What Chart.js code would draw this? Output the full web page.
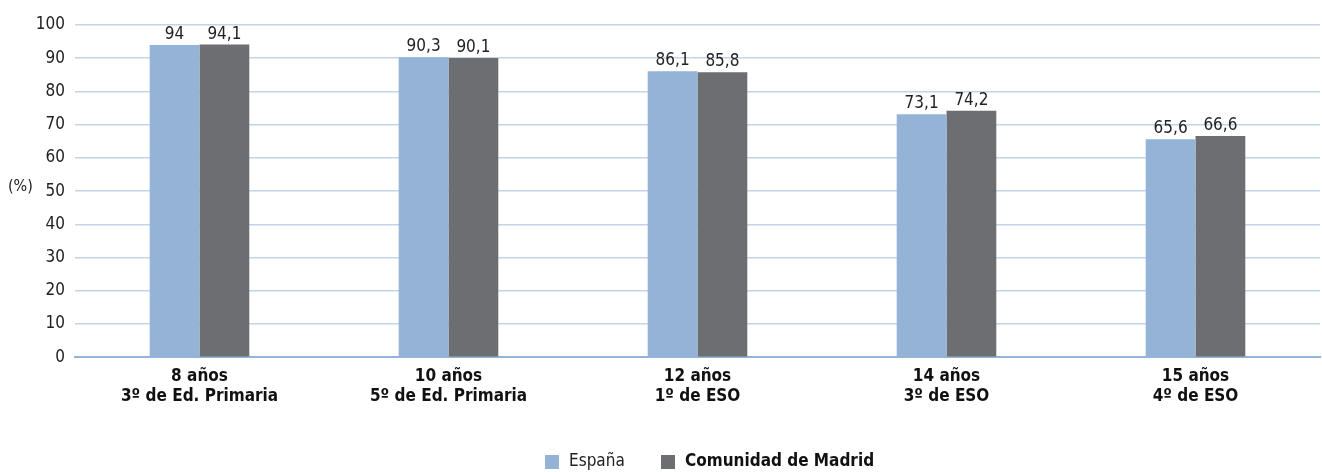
<!DOCTYPE html>
<html><head><meta charset="utf-8">
<script src="https://cdn.jsdelivr.net/npm/chart.js@4"></script>
<style>html,body{margin:0;padding:0;background:#fff;}#wrap{width:1322px;height:472px;}</style>
</head><body><div id="wrap"><canvas id="c" width="1322" height="472"></canvas></div>
<script>
const categories = [["8 años","3º de Ed. Primaria"],["10 años","5º de Ed. Primaria"],["12 años","1º de ESO"],["14 años","3º de ESO"],["15 años","4º de ESO"]];
const espana = [94, 90.3, 86.1, 73.1, 65.6];
const madrid = [94.1, 90.1, 85.8, 74.2, 66.6];
const seriesNames = ["España", "Comunidad de Madrid"];
const yTicks = [0,10,20,30,40,50,60,70,80,90,100];
const yTitle = "(%)";

const FONT = "'Liberation Sans Narrow','DejaVu Sans Condensed','Liberation Sans',sans-serif";
const colors = ["#95b3d7", "#6d6e71"];

const labelPlugin = {
  id: 'extras',
  afterDatasetsDraw(chart) {
    const ctx = chart.ctx;
    ctx.save();
    ctx.font = "17px " + FONT;
    ctx.fillStyle = "#222";
    ctx.textAlign = "center";
    ctx.textBaseline = "bottom";
    chart.data.datasets.forEach((ds, i) => {
      const meta = chart.getDatasetMeta(i);
      meta.data.forEach((bar, j) => {
        const v = ds.data[j];
        const s = String(v).replace('.', ',');
        ctx.fillText(s, bar.x, bar.y - 2);
      });
    });
    // y title
    const ys = chart.scales.y;
    ctx.font = "16px " + FONT;
    ctx.textAlign = "left";
    ctx.textBaseline = "middle";
    ctx.fillText(yTitle, 8, ys.getPixelForValue(50) - 4);
    // legend
    const ly = 462;
    let x = 545;
    ctx.fillStyle = colors[0];
    ctx.fillRect(x, ly - 7, 14, 14);
    ctx.fillStyle = "#222";
    ctx.font = "17px " + FONT;
    ctx.fillText(seriesNames[0], x + 24, ly);
    x = 661;
    ctx.fillStyle = colors[1];
    ctx.fillRect(x, ly - 7, 14, 14);
    ctx.fillStyle = "#111";
    ctx.font = "bold 17px " + FONT;
    ctx.fillText(seriesNames[1], x + 24, ly);
    ctx.restore();
  }
};

new Chart(document.getElementById('c'), {
  type: 'bar',
  data: {
    labels: categories,
    datasets: [
      { label: seriesNames[0], data: espana, backgroundColor: colors[0], categoryPercentage: 0.4, barPercentage: 1.0 },
      { label: seriesNames[1], data: madrid, backgroundColor: colors[1], categoryPercentage: 0.4, barPercentage: 1.0 }
    ]
  },
  options: {
    responsive: false,
    animation: false,
    layout: { padding: { top: 25, right: 2, bottom: 56, left: 0 } },
    plugins: { legend: { display: false }, tooltip: { enabled: false } },
    scales: {
      x: {
        grid: { display: false, drawTicks: false },
        border: { display: true, color: "#95b3d7", width: 2 },
        ticks: { color: "#111", font: { family: FONT, size: 17, weight: 'bold' }, padding: 9, maxRotation: 0 }
      },
      y: {
        min: 0, max: 100,
        afterBuildTicks(scale) { scale.ticks = yTicks.map(v => ({ value: v })); },
        grid: { color: "#c3d4ea", lineWidth: 1.5, drawTicks: false },
        border: { display: false },
        ticks: { color: "#222", font: { family: FONT, size: 17 }, padding: 10 },
        afterFit(scale) { scale.width = 75; }
      }
    }
  },
  plugins: [labelPlugin]
});
</script></body></html>
